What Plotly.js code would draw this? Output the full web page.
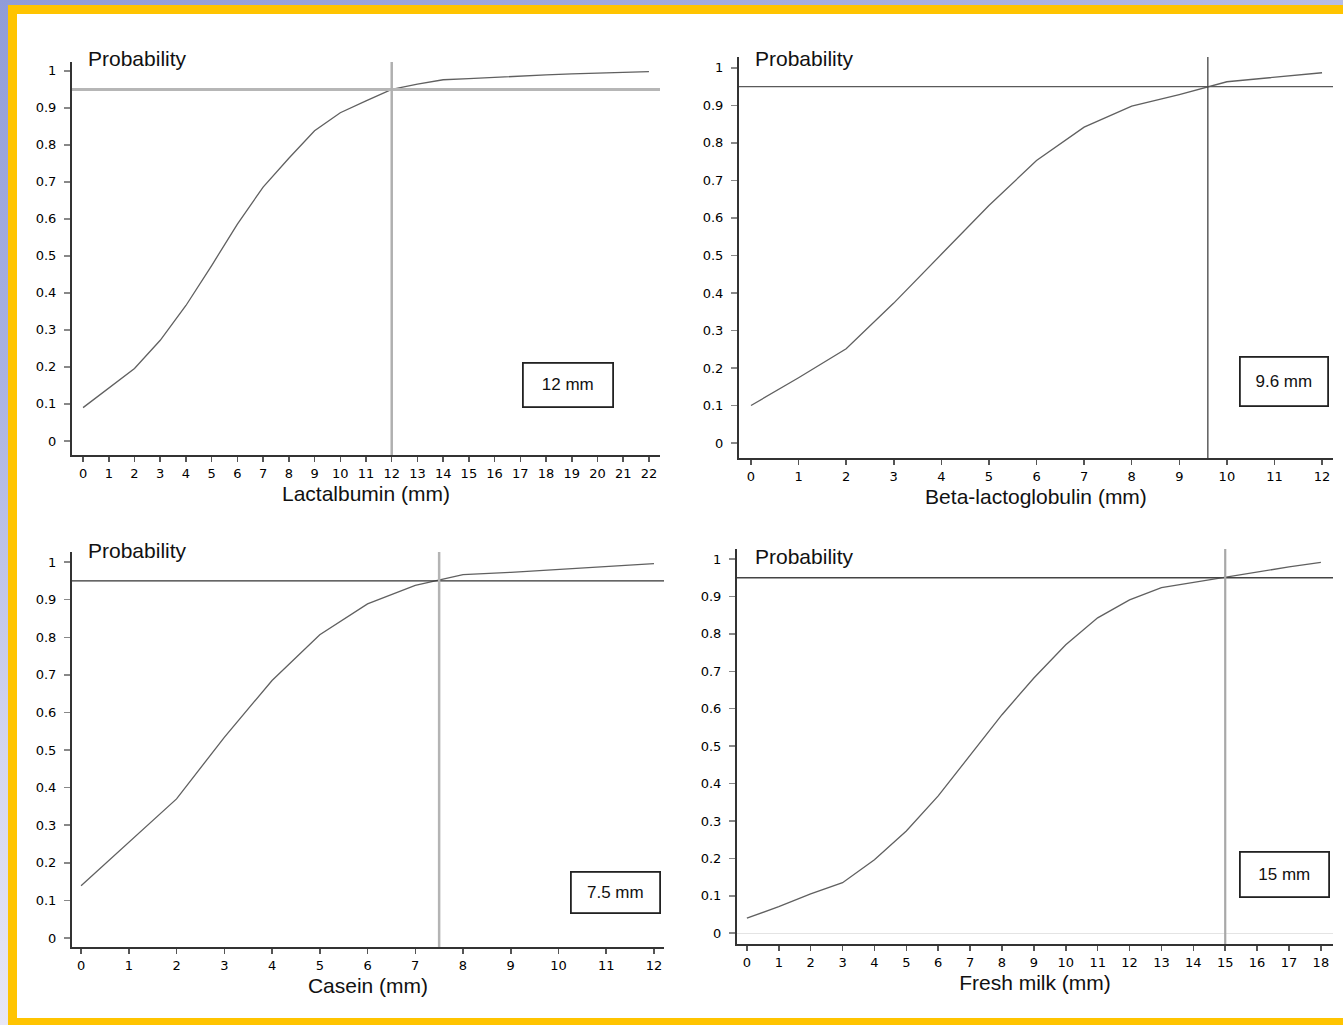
<!DOCTYPE html>
<html><head><meta charset="utf-8">
<script src="https://cdn.plot.ly/plotly-3.0.1.min.js"></script>
<style>
html,body{margin:0;padding:0;width:1343px;height:1025px;overflow:hidden;
background:linear-gradient(160deg,#909cd8 0%,#aab2e2 25%,#d4d6f0 50%,#f0eef8 75%,#ffffff 100%);}
#chart{width:1343px;height:1025px;}
</style>
</head><body><div id="chart"></div>
<script>
// ---- data ----
const lactX = [0,1,2,3,4,5,6,7,8,9,10,11,12,13,14,15,16,17,18,19,20,21,22];
const lactP = [0.09,0.144,0.196,0.272,0.366,0.474,0.586,0.686,0.764,0.838,0.887,0.919,0.950,0.964,0.976,0.979,0.983,0.986,0.989,0.992,0.994,0.996,0.998];
const betaX = [0,1,2,3,4,5,6,7,8,9,10,11,12];
const betaP = [0.10,0.174,0.251,0.373,0.503,0.633,0.753,0.842,0.898,0.929,0.963,0.976,0.987];
const caseinX = [0,1,2,3,4,5,6,7,8,9,10,11,12];
const caseinP = [0.139,0.254,0.370,0.534,0.685,0.807,0.889,0.938,0.967,0.973,0.981,0.989,0.996];
const milkX = [0,1,2,3,4,5,6,7,8,9,10,11,12,13,14,15,16,17,18];
const milkP = [0.04,0.071,0.105,0.135,0.196,0.273,0.367,0.476,0.584,0.682,0.771,0.843,0.891,0.924,0.938,0.950,0.966,0.979,0.991];
const cutoffs = [12, 9.6, 7.5, 15];
const cutoffLabels = ['12 mm', '9.6 mm', '7.5 mm', '15 mm'];
const xTitles = ['Lactalbumin (mm)', 'Beta-lactoglobulin (mm)', 'Casein (mm)', 'Fresh milk (mm)'];
const yLabel = 'Probability';
const threshold = 0.95;
const yTickVals = [0,0.1,0.2,0.3,0.4,0.5,0.6,0.7,0.8,0.9,1];
const yTickText = ['0','0.1','0.2','0.3','0.4','0.5','0.6','0.7','0.8','0.9','1'];

const seriesX = [lactX, betaX, caseinX, milkX];
const seriesY = [lactP, betaP, caseinP, milkP];

// ---- layout geometry (pixels) ----
const W = 1343, H = 1025;
const panels = [
  {xpx:[72,660],  ypx:[62,455],  xr:[-0.43,22.43], yr:[-0.038,1.024], prob:[86,58],  box:[568,384.5,86,40],
   h:{c:'#b6b6b6',w:3}, v:{c:'#b0b0b0',w:2.5}},
  {xpx:[739,1333],ypx:[57,458],  xr:[-0.252,12.23], yr:[-0.04,1.029], prob:[753,58], box:[1284,381.5,84,45],
   h:{c:'#5a5a5a',w:1.3}, v:{c:'#444',w:1.3}},
  {xpx:[72,664],  ypx:[552,947], xr:[-0.19,12.21], yr:[-0.024,1.027], prob:[86,550], box:[615.5,892.5,85,37],
   h:{c:'#333',w:1.2}, v:{c:'#b4b4b4',w:2.5}},
  {xpx:[737,1333],ypx:[549,944], xr:[-0.31,18.38], yr:[-0.029,1.027], prob:[753,556], box:[1284.5,874.5,85,41],
   h:{c:'#444',w:1.5}, v:{c:'#a8a8a8',w:2.2}}
];
const px = x => x / W;
const py = y => 1 - y / H;

const traces = [];
const shapes = [];
const annotations = [];
const layout = {
  width: W, height: H,
  margin: {l:0, r:0, t:0, b:0},
  paper_bgcolor: 'rgba(0,0,0,0)',
  plot_bgcolor: 'rgba(0,0,0,0)',
  showlegend: false,
  font: {family: 'Liberation Sans, Arial, sans-serif', color: '#111'}
};

// frame: yellow border + white slide area
shapes.push({type:'rect', xref:'paper', yref:'paper', x0:px(8), x1:1.01, y0:-0.01, y1:py(5),
  fillcolor:'#ffc400', line:{width:0}, layer:'below'});
shapes.push({type:'rect', xref:'paper', yref:'paper', x0:px(17), x1:1.01, y0:py(1018), y1:py(14),
  fillcolor:'#ffffff', line:{width:0}, layer:'below'});

panels.forEach((p, i) => {
  const n = i + 1;
  const xa = n === 1 ? 'x' : 'x' + n;
  const ya = n === 1 ? 'y' : 'y' + n;
  traces.push({
    x: seriesX[i], y: seriesY[i], xaxis: xa, yaxis: ya,
    type: 'scatter', mode: 'lines',
    line: {color: '#606060', width: 1.3},
    hoverinfo: 'x+y'
  });
  layout['xaxis' + (n === 1 ? '' : n)] = {
    domain: [px(p.xpx[0]), px(p.xpx[1])],
    anchor: ya, range: p.xr, fixedrange: true,
    showgrid: false, zeroline: false,
    showline: true, linecolor: '#333', linewidth: 2,
    ticks: 'outside', ticklen: 5, tickwidth: 1.5, tickcolor: '#555',
    tickmode: 'linear', tick0: 0, dtick: 1,
    tickfont: {family: 'DejaVu Sans, sans-serif', size: 13, color: '#000'},
    title: {text: xTitles[i], font: {size: 21, color: '#111'}, standoff: 7}
  };
  layout['yaxis' + (n === 1 ? '' : n)] = {
    domain: [py(p.ypx[1]), py(p.ypx[0])],
    anchor: xa, range: p.yr, fixedrange: true,
    showgrid: false,
    zeroline: n === 4, zerolinecolor: '#e4e4e4', zerolinewidth: 1,
    showline: true, linecolor: '#333', linewidth: 2,
    ticks: 'outside', ticklen: 6, tickwidth: 1.5, tickcolor: '#888',
    tickmode: 'array', tickvals: yTickVals, ticktext: yTickText,
    tickfont: {family: 'DejaVu Sans, sans-serif', size: 13, color: '#000'},
    ticklabelstandoff: 5
  };
  // 0.95 threshold line
  shapes.push({type:'line', xref: xa + ' domain', yref: ya, x0:0, x1:1, y0:threshold, y1:threshold,
    line:{color:p.h.c, width:p.h.w}});
  // cutoff vertical line
  shapes.push({type:'line', xref: xa, yref: ya + ' domain', x0:cutoffs[i], x1:cutoffs[i], y0:0, y1:1,
    line:{color:p.v.c, width:p.v.w}});
  // "Probability" label
  annotations.push({text: yLabel, xref:'paper', yref:'paper', x: px(p.prob[0]), y: py(p.prob[1]),
    xanchor:'left', yanchor:'middle', showarrow:false, font:{size:21, color:'#111'}});
  // boxed cutoff label
  annotations.push({text: cutoffLabels[i], xref:'paper', yref:'paper', x: px(p.box[0]), y: py(p.box[1]),
    xanchor:'center', yanchor:'middle', showarrow:false, width: p.box[2], height: p.box[3],
    bordercolor:'#222', borderwidth:1.8, borderpad:1, bgcolor:'#ffffff',
    font:{size:17, color:'#111'}});
});

layout.shapes = shapes;
layout.annotations = annotations;

Plotly.newPlot('chart', traces, layout, {staticPlot: true, displayModeBar: false});
</script>
</body></html>
